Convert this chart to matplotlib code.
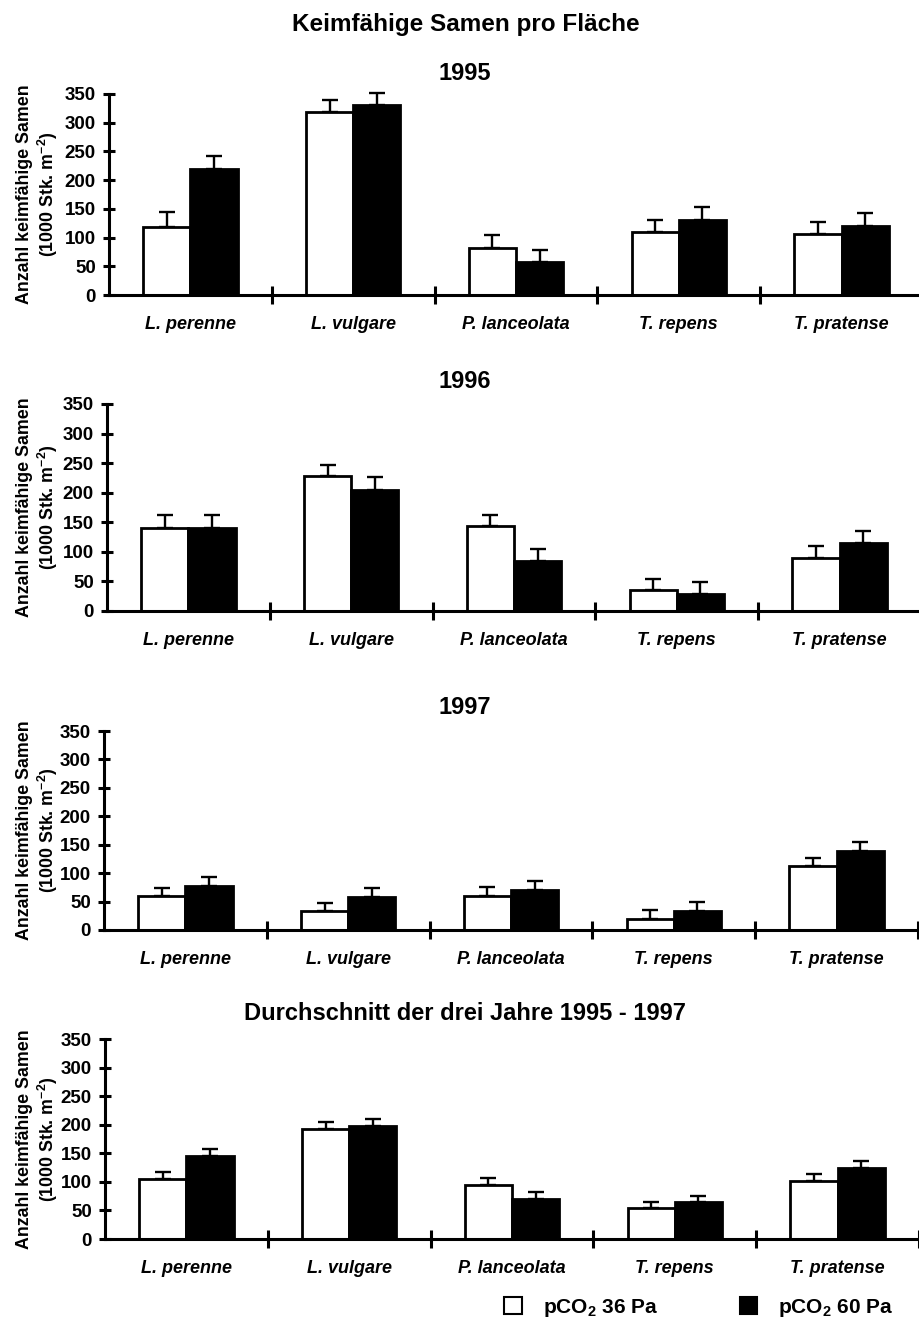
import numpy as np
import matplotlib
matplotlib.use("Agg")
import matplotlib.pyplot as plt
from matplotlib.patches import Patch

plt.rcParams['font.family'] = ['Liberation Sans', 'DejaVu Sans']
plt.rcParams['font.weight'] = 'bold'
plt.rcParams['mathtext.fontset'] = 'custom'
plt.rcParams['mathtext.rm'] = 'Liberation Sans:bold'
plt.rcParams['mathtext.bf'] = 'Liberation Sans:bold'
plt.rcParams['mathtext.it'] = 'Liberation Sans:bold:italic'

# ---- Daten ----
species = ["L. perenne", "L. vulgare", "P. lanceolata", "T. repens", "T. pratense"]
titles = ["1995", "1996", "1997", "Durchschnitt der drei Jahre 1995 - 1997"]

# pCO2 36 Pa (weiss)
amb_1995 = [118, 318, 82, 110, 106]
amb_1996 = [141, 228, 144, 35, 90]
amb_1997 = [60, 33, 60, 20, 113]
amb_mean = [105, 193, 95, 54, 102]
amb_se_1995 = [26, 21, 22, 21, 21]
amb_se_1996 = [21, 19, 19, 19, 20]
amb_se_1997 = [14, 14, 15, 15, 14]
amb_se_mean = [13, 11, 11, 11, 12]

# pCO2 60 Pa (schwarz)
elev_1995 = [220, 330, 57, 131, 121]
elev_1996 = [141, 205, 84, 28, 115]
elev_1997 = [78, 58, 70, 34, 139]
elev_mean = [146, 198, 70, 64, 124]
elev_se_1995 = [22, 22, 22, 23, 22]
elev_se_1996 = [21, 21, 21, 21, 20]
elev_se_1997 = [15, 15, 16, 15, 15]
elev_se_mean = [12, 12, 12, 12, 13]

amb = [amb_1995, amb_1996, amb_1997, amb_mean]
amb_se = [amb_se_1995, amb_se_1996, amb_se_1997, amb_se_mean]
elev = [elev_1995, elev_1996, elev_1997, elev_mean]
elev_se = [elev_se_1995, elev_se_1996, elev_se_1997, elev_se_mean]

# ---- Layout in Pixel (920 x 1321) ----
W, H = 920, 1321
panel_left = [109, 107, 104, 105]
panel_top = [94, 404, 731, 1039]
panel_bottom = [295, 611, 930, 1239]
panel_width = 814
title_y = [73, 381, 707, 1014]

fig = plt.figure(figsize=(W / 100, H / 100), dpi=100)
fig.text(466 / W, 1 - 24 / H, "Keimfähige Samen pro Fläche", ha='center', va='center',
         fontsize=17.5, fontweight='bold')

x = np.arange(len(species)) + 0.5
bw = 0.29
lw = 2.2

for k in range(4):
    ax = fig.add_axes([panel_left[k] / W, 1 - panel_bottom[k] / H,
                       panel_width / W, (panel_bottom[k] - panel_top[k]) / H])
    a = np.array(amb[k]); e = np.array(elev[k])
    ax.bar(x - bw / 2, a, bw, color='white', edgecolor='black', linewidth=2.0, zorder=3)
    ax.bar(x + bw / 2, e, bw, color='black', edgecolor='black', linewidth=2.0, zorder=3)
    for xs, vals, err in [(x - bw / 2, a, amb_se[k]), (x + bw / 2, e, elev_se[k])]:
        eb = ax.errorbar(xs, vals, yerr=[np.zeros(5), err], fmt='none', ecolor='black',
                         elinewidth=1.7, capsize=5.5, capthick=1.7, zorder=2)
        for art in eb.lines[1] + eb.lines[2]:
            art.set_clip_on(False)

    ax.set_xlim(0, 5)
    ax.set_ylim(0, 350)
    for s in ['top', 'right']:
        ax.spines[s].set_visible(False)
    for s in ['left', 'bottom']:
        ax.spines[s].set_linewidth(lw)
        ax.spines[s].set_zorder(4)

    ax.set_yticks(np.arange(0, 351, 50))
    ax.tick_params(axis='y', direction='inout', length=9, width=lw, pad=5, labelsize=13.5)
    ax.set_xticks([1, 2, 3, 4, 5])
    ax.set_xticklabels([])
    ax.tick_params(axis='x', which='major', direction='inout', length=13, width=lw)
    ax.set_xticks(x, minor=True)
    ax.set_xticklabels(species, minor=True, fontstyle='italic', fontweight='bold', fontsize=13)
    ax.tick_params(axis='x', which='minor', length=0, pad=15)
    for lab in ax.get_yticklabels():
        lab.set_fontweight('bold')

    fig.text(465 / W, 1 - title_y[k] / H, titles[k], ha='center', va='center',
             fontsize=17, fontweight='bold')

    yc = (panel_top[k] + panel_bottom[k]) / 2
    fig.text(38 / W, 1 - yc / H, "Anzahl keimfähige Samen\n(1000 Stk. m$^{-2}$)",
             rotation=90, ha='center', va='center', multialignment='center',
             fontsize=12.8, fontweight='bold', linespacing=1.15)

handles = [Patch(facecolor='white', edgecolor='black', linewidth=1.5),
           Patch(facecolor='black', edgecolor='black', linewidth=1.5)]
fig.legend(handles, ["pCO$_2$ 36 Pa", "pCO$_2$ 60 Pa"], loc='center',
           bbox_to_anchor=(699 / W, 1 - 1308 / H), ncol=2, frameon=False,
           handlelength=0.85, handleheight=0.85, handletextpad=1.0, columnspacing=3.9,
           prop={'size': 15, 'weight': 'bold'})

fig.savefig("out.png", dpi=100)
